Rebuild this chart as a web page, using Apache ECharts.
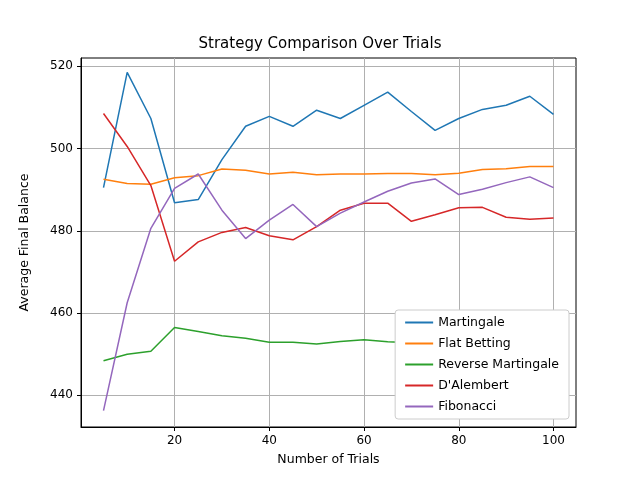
<!DOCTYPE html>
<html lang="en">
<head>
    <meta charset="UTF-8">
    <title>Strategy Comparison Over Trials</title>
    <script src="https://cdn.jsdelivr.net/npm/echarts@6/dist/echarts.min.js"></script>
    <style>body{margin:0}#chart{width:640px;height:480px}</style>
</head>
<body>
    <div id="chart"></div>
    <script type="text/javascript">
        var trials = [5, 10, 15, 20, 25, 30, 35, 40, 45, 50, 55, 60, 65, 70, 75, 80, 85, 90, 95, 100];
        var martingale = [490.5, 518.5, 507.3, 486.8, 487.6, 497.3, 505.4, 507.8, 505.4, 509.3, 507.3, 510.5, 513.7, 509, 504.4, 507.3, 509.5, 510.5, 512.7, 508.3];
        var flatBetting = [492.5, 491.5, 491.3, 492.9, 493.4, 495, 494.7, 493.8, 494.2, 493.6, 493.8, 493.8, 493.9, 493.9, 493.6, 494, 494.9, 495.1, 495.6, 495.6];
        var reverseMartingale = [448.4, 450, 450.7, 456.5, 455.5, 454.5, 453.9, 452.9, 452.9, 452.5, 453.1, 453.5, 453, 452.8, 452.6, 452.5, 452.4, 452.3, 452.2, 452.2];
        var dAlembert = [508.5, 500.5, 491, 472.6, 477.3, 479.6, 480.8, 478.8, 477.8, 481, 485, 486.7, 486.7, 482.3, 483.9, 485.6, 485.7, 483.3, 482.8, 483.1];
        var fibonacci = [436.3, 462.5, 480.6, 490.3, 493.8, 485, 478.1, 482.6, 486.4, 481, 484.3, 487, 489.6, 491.6, 492.6, 488.8, 490.1, 491.7, 493.1, 490.5];
        var xTicks = [20, 40, 60, 80, 100];
        var yTicks = [440, 460, 480, 500, 520];

        var names = ['Martingale', 'Flat Betting', 'Reverse Martingale', "D'Alembert", 'Fibonacci'];
        var datasets = [martingale, flatBetting, reverseMartingale, dAlembert, fibonacci];
        var colors = ['#1f77b4', '#ff7f0e', '#2ca02c', '#d62728', '#9467bd'];

        var myChart = echarts.init(document.getElementById('chart'));
        var font = 'DejaVu Sans';
        var option = {
            animation: false,
            color: colors,
            textStyle: { fontFamily: font },
            title: {
                text: 'Strategy Comparison Over Trials',
                left: 'center', top: 32,
                textStyle: { fontSize: 15, fontWeight: 'normal', color: '#000', fontFamily: font }
            },
            grid: { left: 81, right: 64, top: 58, bottom: 53, show: true, borderColor: '#000', borderWidth: 1 },
            legend: {
                orient: 'vertical',
                right: 71, bottom: 61,
                backgroundColor: '#fff',
                borderColor: '#ccc', borderWidth: 1, borderRadius: 3,
                padding: [6, 10],
                itemGap: 8,
                itemWidth: 28, itemHeight: 2,
                icon: 'rect',
                textStyle: { fontSize: 12.5, color: '#000', fontFamily: font },
                data: names
            },
            xAxis: {
                type: 'value', min: 0.25, max: 104.75,
                name: 'Number of Trials', nameLocation: 'middle', nameGap: 26,
                nameTextStyle: { fontSize: 12.5, color: '#000' },
                axisLine: { onZero: false, lineStyle: { color: '#000' } },
                axisTick: { show: true, customValues: xTicks, length: 4, lineStyle: { color: '#000' } },
                axisLabel: { customValues: xTicks, color: '#000', fontSize: 12 },
                splitLine: { show: true, lineStyle: { color: '#b0b0b0' } }
            },
            yAxis: {
                type: 'value', min: 432.3, max: 522,
                name: 'Average Final Balance', nameLocation: 'middle', nameGap: 50,
                nameTextStyle: { fontSize: 12.5, color: '#000' },
                axisLine: { show: true, lineStyle: { color: '#000' } },
                axisTick: { show: true, customValues: yTicks, length: 4, lineStyle: { color: '#000' } },
                axisLabel: { customValues: yTicks, color: '#000', fontSize: 12 },
                splitLine: { show: true, lineStyle: { color: '#b0b0b0' } }
            },
            series: names.map(function (n, i) {
                return {
                    name: n, type: 'line', showSymbol: false, symbol: 'none',
                    lineStyle: { width: 1.5 },
                    data: trials.map(function (t, j) { return [t, datasets[i][j]]; })
                };
            })
        };
        myChart.setOption(option);
    </script>
</body>
</html>
